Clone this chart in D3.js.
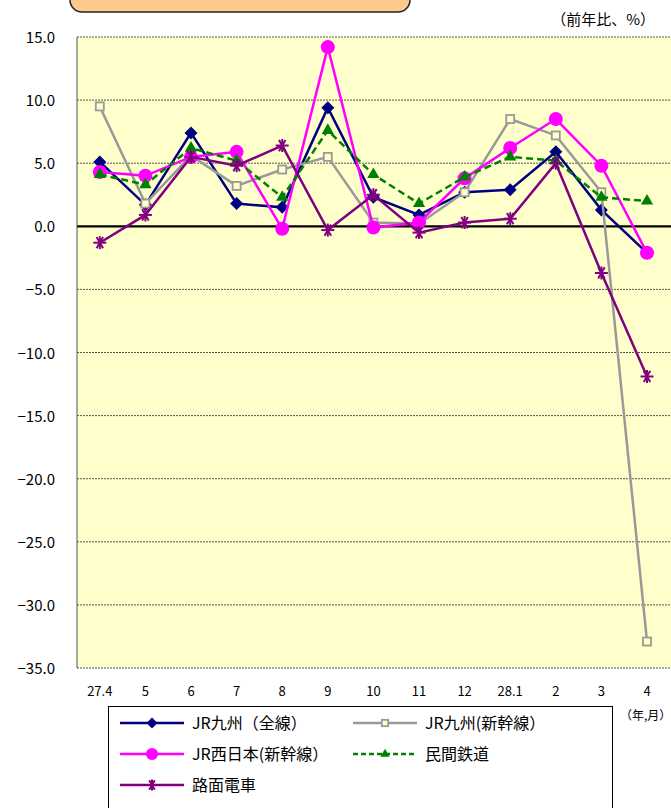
<!DOCTYPE html>
<meta charset="utf-8">
<title>鉄道 前年比</title>
<style>
  body { margin: 0; background: #fff; }
  svg { font-family: "Noto Sans CJK JP", "DejaVu Sans", sans-serif; }
</style>
<script src="https://d3js.org/d3.v7.min.js"></script>
<svg id="chart" width="671" height="808"></svg>
<script>
// data
const months = ["27.4", "5", "6", "7", "8", "9", "10", "11", "12", "28.1", "2", "3", "4"];
const jrKyushuAll = [5.1, 1.7, 7.4, 1.8, 1.5, 9.4, 2.3, 0.9, 2.7, 2.9, 5.9, 1.3, -2.1];
const jrKyushuShin = [9.5, 1.8, 5.6, 3.2, 4.5, 5.5, 0.3, 0.2, 2.7, 8.5, 7.2, 2.7, -32.9];
const jrWestShin = [4.3, 4.0, 5.5, 5.9, -0.2, 14.2, -0.1, 0.3, 3.8, 6.2, 8.5, 4.8, -2.1];
const privateRail = [4.1, 3.3, 6.2, 5.2, 2.3, 7.6, 4.1, 1.8, 3.9, 5.5, 5.2, 2.3, 2.0];
const streetcar = [-1.3, 0.9, 5.5, 4.8, 6.4, -0.3, 2.5, -0.5, 0.3, 0.6, 5.0, -3.7, -11.9];
const yTicks = [15, 10, 5, 0, -5, -10, -15, -20, -25, -30, -35];

const series = [
  { name: "JR九州（全線）", values: jrKyushuAll, color: "#000080", marker: "diamond", dash: null },
  { name: "JR九州(新幹線）", values: jrKyushuShin, color: "#999999", marker: "square", dash: null },
  { name: "JR西日本(新幹線）", values: jrWestShin, color: "#ff00ff", marker: "circle", dash: null },
  { name: "民間鉄道", values: privateRail, color: "#008000", marker: "triangle", dash: "7,4" },
  { name: "路面電車", values: streetcar, color: "#800080", marker: "star", dash: null }
];

const svg = d3.select("#chart");
const plotL = 77, plotR = 671 + 22, plotT = 37, plotB = 668;

// title box peeking from the top
svg.append("rect")
  .attr("x", 70).attr("y", -30).attr("width", 340).attr("height", 42)
  .attr("rx", 12)
  .attr("fill", "#fcc98f").attr("stroke", "#222").attr("stroke-width", 1.5);

const x = d3.scaleBand().domain(months).range([plotL, plotL + 13 * 45.6]);
const y = d3.scaleLinear().domain([-35, 15]).range([plotB, plotT]);

svg.append("rect")
  .attr("x", plotL).attr("y", plotT)
  .attr("width", plotR - plotL).attr("height", plotB - plotT)
  .attr("fill", "#ffffcc");

// gridlines
svg.append("g").selectAll("line")
  .data(yTicks.filter(d => d !== 0))
  .join("line")
  .attr("x1", plotL).attr("x2", plotR)
  .attr("y1", d => y(d)).attr("y2", d => y(d))
  .attr("stroke", "#555").attr("stroke-width", 1)
  .attr("stroke-dasharray", "2,1");

svg.append("line")
  .attr("x1", plotL).attr("x2", plotR)
  .attr("y1", y(0)).attr("y2", y(0))
  .attr("stroke", "#000").attr("stroke-width", 2.2);

svg.append("line")
  .attr("x1", plotL).attr("x2", plotL)
  .attr("y1", plotT).attr("y2", plotB)
  .attr("stroke", "#555").attr("stroke-width", 1);

// y labels
svg.append("g").selectAll("text")
  .data(yTicks)
  .join("text")
  .attr("x", 55).attr("y", d => y(d) + 6)
  .attr("text-anchor", "end")
  .style("font-size", "15px")
  .text(d => d.toFixed(1).replace("-", "−"));

// x labels
svg.append("g").selectAll("text")
  .data(months)
  .join("text")
  .attr("x", d => x(d) + x.bandwidth() / 2)
  .attr("y", 696)
  .attr("text-anchor", "middle")
  .style("font-size", "13px")
  .text(d => d);

svg.append("text")
  .attr("x", 655).attr("y", 25)
  .attr("text-anchor", "end")
  .style("font-size", "15px")
  .text("（前年比、%）");

svg.append("text")
  .attr("x", 620).attr("y", 720)
  .style("font-size", "12px")
  .text("（年,月）");

function drawMarker(g, type, color, size) {
  if (type === "diamond") {
    g.append("path").attr("d", d3.symbol(d3.symbolSquare, size * size * 0.5)())
      .attr("transform", "rotate(45)").attr("fill", color);
  } else if (type === "square") {
    g.append("rect").attr("x", -size * 0.4).attr("y", -size * 0.4)
      .attr("width", size * 0.8).attr("height", size * 0.8)
      .attr("fill", "#ffffcc").attr("stroke", color).attr("stroke-width", 1.8);
  } else if (type === "circle") {
    g.append("circle").attr("r", size * 0.5).attr("fill", color);
  } else if (type === "triangle") {
    g.append("path").attr("d", d3.symbol(d3.symbolTriangle, size * size * 0.45)()).attr("fill", color);
  } else if (type === "star") {
    const r = size * 0.5;
    [0, 60, 120].forEach(a => {
      g.append("line").attr("x1", 0).attr("y1", -r).attr("x2", 0).attr("y2", r)
        .attr("transform", `rotate(${a + 30})`)
        .attr("stroke", color).attr("stroke-width", 2);
    });
    g.append("line").attr("x1", 0).attr("y1", -r).attr("x2", 0).attr("y2", r)
      .attr("stroke", color).attr("stroke-width", 2);
  }
}

const line = d3.line()
  .x((d, i) => x(months[i]) + x.bandwidth() / 2)
  .y(d => y(d));

const sizes = { diamond: 13, square: 10, circle: 14, triangle: 12, star: 13 };

series.forEach(s => {
  svg.append("path")
    .datum(s.values)
    .attr("d", line)
    .attr("fill", "none")
    .attr("stroke", s.color)
    .attr("stroke-width", 2.5)
    .attr("stroke-dasharray", s.dash);
  s.values.forEach((v, i) => {
    const g = svg.append("g")
      .attr("transform", `translate(${x(months[i]) + x.bandwidth() / 2},${y(v)})`);
    drawMarker(g, s.marker, s.color, sizes[s.marker]);
  });
});

// legend
svg.append("rect")
  .attr("x", 108.5).attr("y", 706.5).attr("width", 504).attr("height", 120)
  .attr("fill", "#fff").attr("stroke", "#000").attr("stroke-width", 1);

const legendPos = [
  { x: 120, y: 723 }, { x: 353, y: 723 },
  { x: 120, y: 754 }, { x: 353, y: 754 },
  { x: 120, y: 785 }
];
const legendSizes = { diamond: 11, square: 8, circle: 12, triangle: 9, star: 11 };

series.forEach((s, i) => {
  const p = legendPos[i];
  const g = svg.append("g").attr("transform", `translate(${p.x},${p.y})`);
  g.append("line").attr("x1", 0).attr("x2", 64).attr("y1", 0).attr("y2", 0)
    .attr("stroke", s.color).attr("stroke-width", 2.5)
    .attr("stroke-dasharray", s.dash ? "5,3" : null);
  const m = g.append("g").attr("transform", "translate(32,0)");
  drawMarker(m, s.marker, s.color, legendSizes[s.marker]);
  g.append("text").attr("x", 72).attr("y", 6)
    .style("font-size", "16px")
    .text(s.name);
});
</script>
